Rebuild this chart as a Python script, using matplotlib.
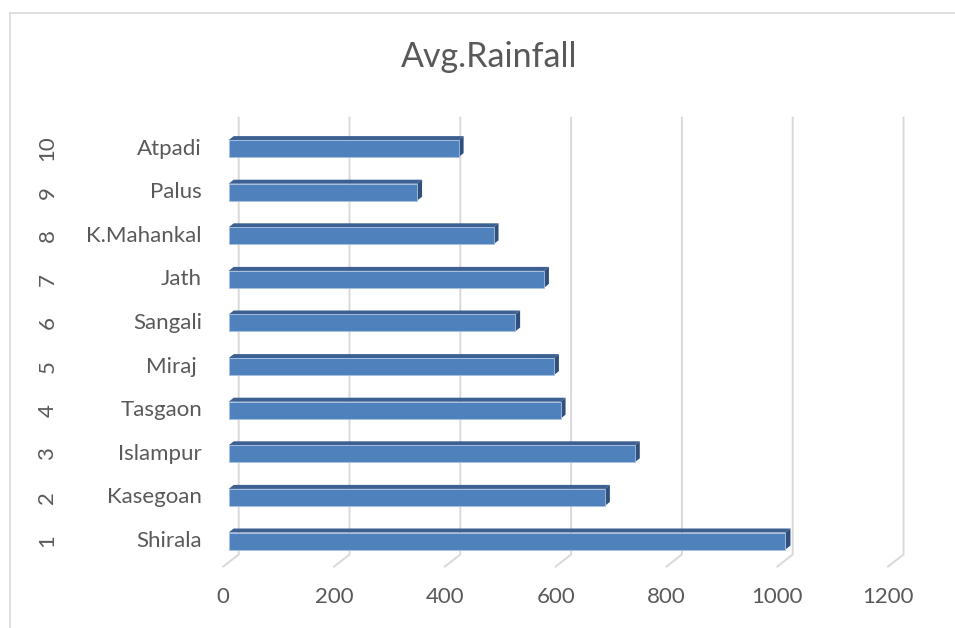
import matplotlib
matplotlib.use("Agg")
import matplotlib.pyplot as plt
from matplotlib.patches import Polygon
from matplotlib.lines import Line2D

# data
districts = ["Shirala", "Kasegoan", "Islampur", "Tasgaon", "Miraj ",
             "Sangali", "Jath", "K.Mahankal", "Palus", "Atpadi"]
serial = ["1", "2", "3", "4", "5", "6", "7", "8", "9", "10"]
rainfall = [1005, 679, 733, 599, 587, 517, 569, 478, 340, 415]
xticks = [0, 200, 400, 600, 800, 1000, 1200]
title = "Avg.Rainfall"

W, H = 955, 628
FRONT = "#4f81bd"
TOP = "#3c6092"
SIDE = "#2f4f7c"
GRID = "#d9d9d9"
TXT = "#595959"
FONT = "Lato"

# pixel layout of the plot (value axis / category rows)
x0_px, px_per_unit = 228.7, 0.554
row0_px, row_px = 541.0, 43.6

fig = plt.figure(figsize=(W / 100, H / 100), dpi=100)
ax = fig.add_axes([0, 0, 1, 1])
ax.set_xlim(-x0_px / px_per_unit, (W - x0_px) / px_per_unit)
ax.set_ylim((row0_px - H) / row_px, row0_px / row_px)
ax.axis("off")

ux = 1 / px_per_unit  # one pixel in x data units
uy = 1 / row_px       # one pixel in y data units

# gridlines (back wall + floor slant)
for g in xticks:
    xb = g + 10 * ux
    ax.plot([xb, xb, xb - 15.4 * ux], [9.71, -0.31, -0.31 - 12 * uy],
            color=GRID, lw=1.4, zorder=1, solid_joinstyle="miter")

# 3D-ish bars: top face, right side face, front face
bh = 17 * uy
dx, dy = 5 * ux, 4 * uy
for i, v in enumerate(rainfall):
    yb, yt = i - bh / 2, i + bh / 2
    ax.add_patch(Polygon([(0, yt), (v, yt), (v + dx, yt + dy), (dx, yt + dy)],
                         closed=True, fc=TOP, ec="none", zorder=3))
    ax.add_patch(Polygon([(v, yb), (v, yt), (v + dx, yt + dy), (v + dx, yb + dy)],
                         closed=True, fc=SIDE, ec="none", zorder=3))
    ax.barh(i, v, height=bh, left=0, color=FRONT, edgecolor="#a9c0df",
            linewidth=0.6, zorder=4)

# category labels (two levels)
for i, (name, num) in enumerate(zip(districts, serial)):
    ax.text(-26.7 * ux, i, name, ha="right", va="center", fontsize=16,
            color=TXT, family=FONT)
    ax.text((47.5 - x0_px) * ux, i, num, ha="center", va="center",
            rotation=90, fontsize=16, color=TXT, family=FONT)

# value tick labels under floor front edge
for g in xticks:
    ax.text(g - 5.4 * ux, (row0_px - 596.7) * uy, str(g), ha="center",
            va="center", fontsize=16, color=TXT, family=FONT)

ax.text((489 - x0_px) * ux, (row0_px - 57) * uy, title, ha="center",
        va="center", fontsize=24.5, color=TXT, family=FONT)

# chart area border (left + top visible)
fig.add_artist(Line2D([9.5 / W, 9.5 / W], [0, 1 - 13 / H], color=GRID, lw=1.2))
fig.add_artist(Line2D([9.5 / W, 1], [1 - 13 / H, 1 - 13 / H], color=GRID, lw=1.2))

fig.savefig("out.png", dpi=100)
